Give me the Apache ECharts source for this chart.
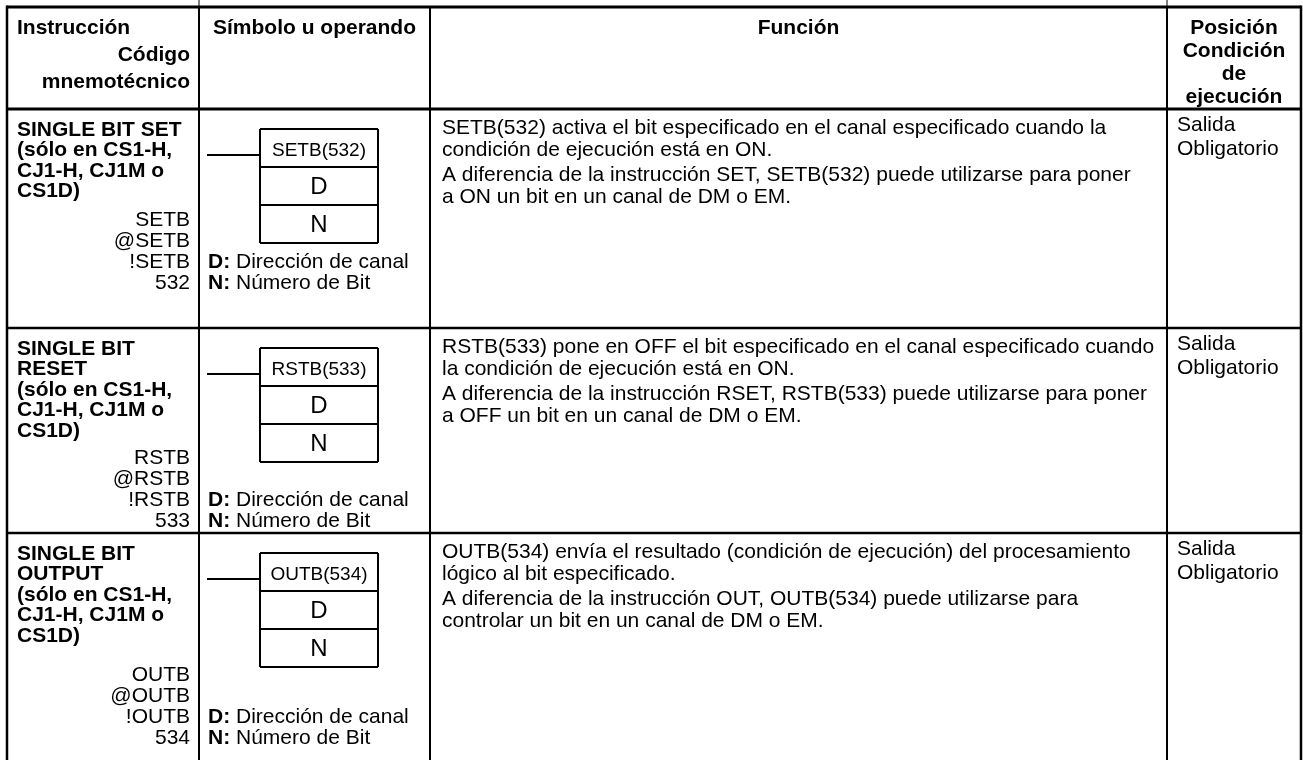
<!DOCTYPE html>
<html><head><meta charset="utf-8">
<script src="https://cdn.jsdelivr.net/npm/echarts@6/dist/echarts.min.js"></script>
<style>html,body{margin:0;padding:0;background:#fff}#c{width:1303px;height:760px}</style>
</head><body><div id="c"></div>
<script>
// ---- DATA ----
const headerInstr = ['Instrucción', 'Código', 'mnemotécnico'];
const headerSymbol = 'Símbolo u operando';
const headerFunction = 'Función';
const headerCondition = ['Posición', 'Condición', 'de', 'ejecución'];

const instrNames = [
  ['SINGLE BIT SET', '(sólo en CS1-H,', 'CJ1-H, CJ1M o', 'CS1D)'],
  ['SINGLE BIT', 'RESET', '(sólo en CS1-H,', 'CJ1-H, CJ1M o', 'CS1D)'],
  ['SINGLE BIT', 'OUTPUT', '(sólo en CS1-H,', 'CJ1-H, CJ1M o', 'CS1D)']
];
const mnemonics = [
  ['SETB', '@SETB', '!SETB', '532'],
  ['RSTB', '@RSTB', '!RSTB', '533'],
  ['OUTB', '@OUTB', '!OUTB', '534']
];
const symbolNames = ['SETB(532)', 'RSTB(533)', 'OUTB(534)'];
const operands = ['D', 'N'];
const operandDescs = [['D:', 'Dirección de canal'], ['N:', 'Número de Bit']];
const functionTexts = [
  [['SETB(532) activa el bit especificado en el canal especificado cuando la', 'condición de ejecución está en ON.'],
   ['A diferencia de la instrucción SET, SETB(532) puede utilizarse para poner', 'a ON un bit en un canal de DM o EM.']],
  [['RSTB(533) pone en OFF el bit especificado en el canal especificado cuando', 'la condición de ejecución está en ON.'],
   ['A diferencia de la instrucción RSET, RSTB(533) puede utilizarse para poner', 'a OFF un bit en un canal de DM o EM.']],
  [['OUTB(534) envía el resultado (condición de ejecución) del procesamiento', 'lógico al bit especificado.'],
   ['A diferencia de la instrucción OUT, OUTB(534) puede utilizarse para', 'controlar un bit en un canal de DM o EM.']]
];
const conditions = [
  ['Salida', 'Obligatorio'],
  ['Salida', 'Obligatorio'],
  ['Salida', 'Obligatorio']
];

// ---- LAYOUT ----
const L = {
  cols: [7, 199, 430, 1167, 1301],
  rows: [7, 109, 328, 533, 800],
  mnemTop: [111, 130, 142],
  font: '"Liberation Sans", Arial, Helvetica, sans-serif',
  fs: 21, lh: 20.5, mlh: 21, fsBox: 19, fsOp: 24,
  padL: 10, padR: 9
};

const els = [];
function txt(x, y, text, o) {
  o = o || {};
  els.push({
    type: 'text', x: x, y: y, z: 10,
    style: {
      text: text, fill: '#000', fontFamily: L.font, fontSize: o.fs || L.fs,
      fontWeight: o.bold ? 'bold' : 'normal',
      align: o.align || 'left', verticalAlign: 'middle',
      rich: o.rich
    }
  });
}
function line(x1, y1, x2, y2, w) {
  els.push({ type: 'line', z: 5, shape: { x1: x1, y1: y1, x2: x2, y2: y2 }, style: { stroke: '#000', lineWidth: w } });
}

const C = L.cols, R = L.rows;
// table lines
line(C[0], R[0], C[4], R[0], 3);
line(C[0], R[1], C[4], R[1], 3);
for (let i = 2; i < R.length - 1; i++) line(C[0], R[i], C[4], R[i], 2.5);
line(C[0], R[0] - 1.5, C[0], 760, 2.5);
line(C[4], R[0] - 1.5, C[4], 760, 2.5);
for (let i = 1; i < 4; i++) line(C[i], R[0], C[i], 760, 2);
line(C[1], 0, C[1], R[0], 1);
line(C[3], 0, C[3], R[0], 1);

// headers
txt(C[0] + L.padL, 28, headerInstr[0], { bold: true });
txt(C[1] - L.padR, 55, headerInstr[1], { bold: true, align: 'right' });
txt(C[1] - L.padR, 82, headerInstr[2], { bold: true, align: 'right' });
txt((C[1] + C[2]) / 2, 28, headerSymbol, { bold: true, align: 'center' });
txt((C[2] + C[3]) / 2, 28, headerFunction, { bold: true, align: 'center' });
headerCondition.forEach((t, i) => txt((C[3] + C[4]) / 2, 28 + i * 23, t, { bold: true, align: 'center' }));

// body rows
for (let r = 0; r < instrNames.length; r++) {
  const top = R[r + 1];
  // instruction name + mnemonics
  let y = top + 21;
  instrNames[r].forEach(t => { txt(C[0] + L.padL, y, t, { bold: true }); y += L.lh; });
  y = top + L.mnemTop[r];
  const mY = [];
  mnemonics[r].forEach(t => { txt(C[1] - L.padR, y, t, { align: 'right' }); mY.push(y); y += L.mlh; });

  // symbol diagram
  const bx1 = 260, bx2 = 378, bt = top + 20, ch = 38;
  line(bx1, bt, bx2, bt, 2);
  for (let k = 1; k <= 3; k++) line(bx1, bt + k * ch, bx2, bt + k * ch, 2);
  line(bx1, bt, bx1, bt + 3 * ch, 2);
  line(bx2, bt, bx2, bt + 3 * ch, 2);
  line(207, bt + 26, bx1, bt + 26, 2);
  txt((bx1 + bx2) / 2, bt + 22, symbolNames[r], { fs: L.fsBox, align: 'center' });
  operands.forEach((t, k) => txt((bx1 + bx2) / 2, bt + ch * (k + 1) + ch / 2 + 1, t, { fs: L.fsOp, align: 'center' }));
  operandDescs.forEach((d, k) => txt(C[1] + 9, mY[2 + k], '{b|' + d[0] + '} ' + d[1], {
    rich: { b: { fontWeight: 'bold', fontFamily: L.font, fontSize: L.fs, fill: '#000' } }
  }));

  // function text
  let fy = top + 19;
  functionTexts[r].forEach((para, p) => {
    if (p > 0) fy += 2;
    para.forEach(t => { txt(C[2] + 12, fy, t); fy += 22.5; });
  });

  // condition
  conditions[r].forEach((t, k) => txt(C[3] + 10, top + 16 + k * 24, t));
}

const chart = echarts.init(document.getElementById('c'), null, { renderer: 'canvas' });
chart.setOption({ backgroundColor: '#fff', animation: false, graphic: { elements: els } });
</script></body></html>
